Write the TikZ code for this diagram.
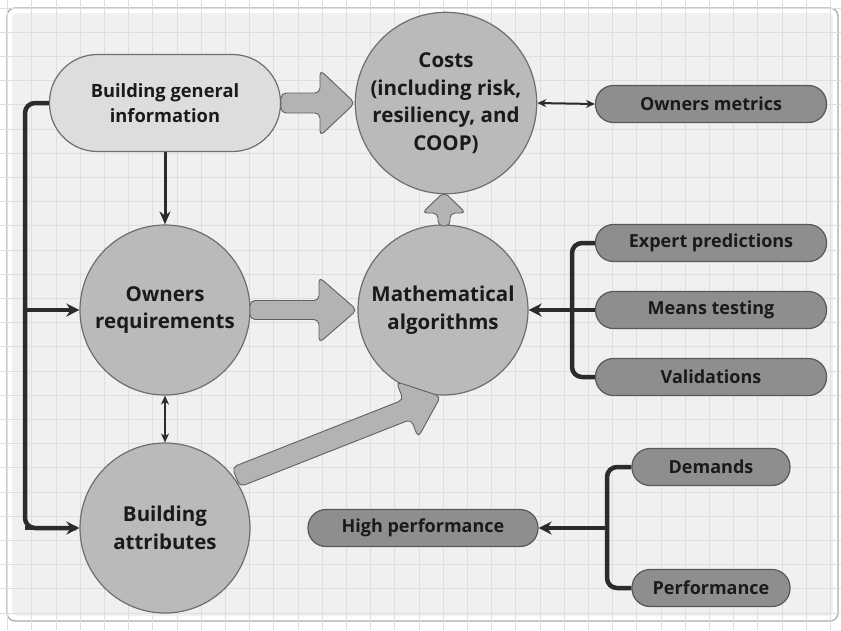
\documentclass[tikz,border=0pt]{standalone}
\usepackage{fontspec}
\setmainfont{Open Sans}
\usetikzlibrary{arrows.meta,calc}
\definecolor{gridc}{HTML}{DEDEDE}
\definecolor{panel}{HTML}{F0F0F0}
\definecolor{circf}{HTML}{BABABA}
\definecolor{circd}{HTML}{6E6E6E}
\definecolor{lightf}{HTML}{DDDDDD}
\definecolor{darkf}{HTML}{8E8E8E}
\definecolor{blkf}{HTML}{B3B3B3}
\definecolor{busc}{HTML}{2B2B2B}
\definecolor{txt}{HTML}{1A1A1A}
\newcommand\blkarrow[7]{%
  \begin{scope}[shift={(#1,#2)},rotate=#3]
    \draw[blk] (0,-#5) -- ({#4-#7},-#5) -- ({#4-#7},-#6) -- (#4,0) -- ({#4-#7},#6) -- ({#4-#7},#5) -- (0,#5) -- cycle;
  \end{scope}}
\begin{document}
\begin{tikzpicture}[x=1pt,y=-1pt,
  circ/.style={circle, draw=circd, line width=1.2pt, fill=circf, minimum size=170pt, inner sep=0pt, align=center, text=txt, font=\bfseries\fontsize{20.5}{27.5}\selectfont},
  lightpill/.style={rectangle, rounded corners=48pt, draw=circd, line width=1.2pt, fill=lightf, minimum width=231pt, minimum height=97pt, align=center, text=txt, font=\bfseries\fontsize{18.3}{25}\selectfont},
  darkpill/.style={rectangle, rounded corners=18pt, draw=circd!80!black, line width=1.2pt, fill=darkf, minimum height=37pt, inner sep=0pt, text=txt, font=\bfseries\fontsize{18}{20}\selectfont},
  blk/.style={fill=blkf, draw=gray!75!black, line width=0.9pt, rounded corners=5pt},
  bus/.style={draw=busc, line width=4.5pt},
  bustip/.style={-{Stealth[length=13pt,width=13pt]}},
  thin/.style={draw=busc, line width=2pt},
  thintip/.style={{Stealth[length=9pt,width=8pt]}-{Stealth[length=9pt,width=8pt]}}
]
\useasboundingbox (0,0) rectangle (841,630);
\fill[white] (0,0) rectangle (841,630);
\draw[gray!65, line width=1.3pt, fill=white, rounded corners=8pt] (7,8) rectangle (838,621);
\fill[panel, rounded corners=6pt] (12,13) rectangle (833,616);
\foreach \i in {0,...,34} {\draw[gridc, line width=0.7pt] ({7.5+24.2*\i},0) -- ({7.5+24.2*\i},630);}
\foreach \j in {0,...,26} {\draw[gridc, line width=0.7pt] (0,{8+24.2*\j}) -- (841,{8+24.2*\j});}

% nodes
\node[lightpill] (bgi) at (165,103) {Building general\\information};
\node[circ] (cost) at (446,103) {Costs\\(including risk,\\resiliency, and\\COOP)};
\node[circ] (own) at (165,310) {Owners\\requirements};
\node[circ] (math) at (443,310) {Mathematical\\algorithms};
\node[circ] (batt) at (165,528) {Building\\attributes};
\node[darkpill, minimum width=231pt] (om) at (711,104) {Owners metrics};
\node[darkpill, minimum width=231pt] (exp) at (711,243) {Expert predictions};
\node[darkpill, minimum width=231pt] (mt) at (711,310) {Means testing};
\node[darkpill, minimum width=231pt] (val) at (711,377) {Validations};
\node[darkpill, minimum width=230pt] (hp) at (423,528) {High performance};
\node[darkpill, minimum width=158pt] (dem) at (711,467) {Demands};
\node[darkpill, minimum width=158pt] (perf) at (711,588) {Performance};

% block arrows
\blkarrow{281}{103}{0}{74}{10}{33}{35}
\blkarrow{250}{310}{0}{107}{9.5}{33}{38}
\blkarrow{444}{226}{90}{34}{6}{22}{21}
\blkarrow{236}{477}{21.5}{220}{10.5}{30}{36}

% left bus
\coordinate (lb1) at (25,310);
\draw[bus, rounded corners=10pt] (bgi.west) -- (25,103) -- (25,528) -- ([xshift=-3pt]batt.west);
\draw[bus, bustip] (25,528) -- (batt.west);
\draw[bus, bustip] (lb1) -- (own.west);

% thin arrows
\draw[thin, -{Stealth[length=13pt,width=11pt]}, line width=3pt] (bgi.south) -- (own.north);
\draw[thin, thintip] (own.south) -- (batt.north);
\draw[thin, thintip] (cost.east) -- (om.west);

% right bus to math
\coordinate (rj) at (572,310);
\draw[bus, rounded corners=10pt] (exp.west) -- (572,243) -- (572,377) -- (val.west);
\draw[bus, bustip] (mt.west) -- (math.east);

% bus to high performance
\coordinate (hj) at (607,528);
\draw[bus, rounded corners=10pt] (dem.west) -- (607,467) -- (607,588) -- (perf.west);
\draw[bus, bustip] (hj) -- (hp.east);
\end{tikzpicture}
\end{document}
